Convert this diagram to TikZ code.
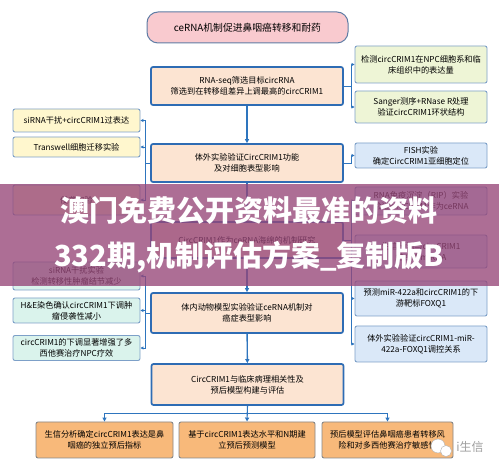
\documentclass[tikz,border=0pt]{standalone}
\usepackage{fontspec}
\newfontfamily\cjk{Noto Sans CJK SC}
\usetikzlibrary{arrows.meta}

\begin{document}
\begin{tikzpicture}[
		x=1pt,
		y=-1pt,
		font=\cjk\fontsize{8.2}{11}\selectfont,
		hop/.style={draw=MauVienNhat,line width=0.9pt,rounded corners=2pt,align=center,inner sep=1pt},
		hoptieude/.style={hop,draw=MauVienTieuDe,line width=1pt,rounded corners=11pt,fill=MauTieuDe,minimum width=201pt,minimum height=31pt,font=\cjk\fontsize{9.8}{12}\selectfont},
		hopchinh/.style={hop,draw=MauVienDam,line width=1.7pt,fill=MauTrungTam,minimum width=192pt},
		hoptrai/.style={hop,minimum width=127pt},
		hopphai/.style={hop,minimum width=132pt},
		hopduoi/.style={hop,draw=MauVienXam,fill=MauCam,minimum height=36pt},
		chinh/.style={draw=MauMuiTen,line width=1.4pt,-{Triangle[length=4pt,width=4pt]}},
		nhanh/.style={draw=MauMuiTen,line width=0.9pt,-{Triangle[length=3pt,width=3pt]}}
	]
	% ===== MÀU SẮC =====
	\definecolor{MauTieuDe}{RGB}{249,202,207}
	\definecolor{MauVienTieuDe}{RGB}{95,125,165}
	\definecolor{MauTrungTam}{RGB}{252,228,210}
	\definecolor{MauVienDam}{RGB}{46,108,180}
	\definecolor{MauVienNhat}{RGB}{125,160,200}
	\definecolor{MauVienXam}{RGB}{135,135,135}
	\definecolor{MauXanhLa}{RGB}{238,245,214}
	\definecolor{MauVang}{RGB}{255,247,206}
	\definecolor{MauXanhDuong}{RGB}{218,232,248}
	\definecolor{MauXanhNgoc}{RGB}{218,243,236}
	\definecolor{MauCam}{RGB}{248,185,122}
	\definecolor{MauMuiTen}{RGB}{46,117,190}
	\definecolor{MauBang}{RGB}{150,70,120}

	\useasboundingbox (0,0) rectangle (499,470);
	\fill[white] (0,0) rectangle (499,470);

	% ===== CỘT GIỮA =====
	\node[hoptieude] (tieude) at (247.5,27.5) {ceRNA机制促进鼻咽癌转移和耐药};
	\node[hopchinh,minimum height=38pt] (buoc1) at (247,86)
		{RNA-seq筛选目标circRNA\\筛选到在转移组差异上调最高的circCRIM1};
	\node[hopchinh,minimum height=38pt] (buoc2) at (247,163)
		{体外实验验证CircCRIM1功能\\及对细胞表型影响};
	\node[hopchinh,minimum height=36pt] (buoc3) at (247,240)
		{CircCRIM1作为ceRNA海绵的机制研究};
	\node[hopchinh,minimum height=40pt] (buoc4) at (247,313)
		{体内动物模型实验验证ceRNA机制对\\癌症表型影响};
	\node[hopchinh,minimum height=41pt] (buoc5) at (247.5,384.5)
		{CircCRIM1与临床病理相关性及\\预后模型构建与评估};

	% ===== CỘT TRÁI =====
	\node[hoptrai,fill=MauVang,minimum height=23pt] (trai1) at (76.5,120.5) {siRNA干扰+circCRIM1过表达};
	\node[hoptrai,fill=MauVang,minimum height=20pt] (trai2) at (76.5,147) {Transwell细胞迁移实验};
	\node[hoptrai,fill=MauVang,minimum height=30pt] (trai3) at (76.5,200) {侵袭实验};
	\node[hoptrai,fill=MauXanhNgoc,minimum height=28pt] (trai4) at (76.5,276)
		{siRNA干扰实验\\检测转移性肿瘤结节减少};
	\node[hoptrai,fill=MauXanhNgoc,minimum height=25pt] (trai5) at (76.5,310.5)
		{H\&E染色确认circCRIM1下调肿\\瘤侵袭性减小};
	\node[hoptrai,fill=MauXanhNgoc,minimum height=25pt] (trai6) at (76.5,348)
		{circCRIM1的下调显著增强了多\\西他赛治疗NPC疗效};

	% ===== CỘT PHẢI =====
	\node[hopphai,fill=MauXanhLa,minimum height=37pt] (phai1) at (421,64.5)
		{检测circCRIM1在NPC细胞系和临\\床组织中的表达量};
	\node[hopphai,fill=MauXanhLa,minimum height=32pt] (phai2) at (421,107)
		{Sanger测序+RNase R处理\\验证circCRIM1环状结构};
	\node[hopphai,fill=MauXanhDuong,minimum height=25pt] (phai3) at (421,155.5)
		{FISH实验\\确定CircCRIM1亚细胞定位};
	\node[hopphai,fill=MauXanhDuong,minimum height=28pt] (phai4) at (421,201)
		{RNA免疫沉淀（RIP）实验\\验证circCRIM1作为ceRNA};
	\node[hopphai,fill=MauXanhDuong,minimum height=33pt] (phai5) at (421,251.5)
		{生信预测与circCRIM1\\结合的miRNA};
	\node[hopphai,fill=MauXanhDuong,minimum height=35pt] (phai6) at (421,298.5)
		{预测miR-422a和circCRIM1的下\\游靶标FOXQ1};
	\node[hopphai,fill=MauXanhDuong,minimum height=36pt] (phai7) at (421,344)
		{体外实验验证circCRIM1-miR-\\422a-FOXQ1调控关系};

	% ===== HÀNG DƯỚI =====
	\node[hopduoi,minimum width=137pt] (duoi1) at (104.5,440)
		{生信分析确定circCRIM1表达是鼻\\咽癌的独立预后指标};
	\node[hopduoi,minimum width=136pt] (duoi2) at (247,440)
		{基于circCRIM1表达水平和N期建\\立预后预测模型};
	\node[hopduoi,minimum width=131pt] (duoi3) at (387.5,440)
		{预后模型评估鼻咽癌患者转移风\\险和对多西他赛治疗敏感性};

	% ===== MŨI TÊN CHÍNH =====
	\draw[chinh] (buoc1) -- (buoc2);
	\draw[chinh] (buoc2) -- (buoc3);
	\draw[chinh] (buoc3) -- (buoc4);
	\draw[chinh] (buoc4) -- (buoc5);
	\draw[chinh,line width=1.1pt] (buoc5.south) -- ++(0,8) -| (duoi1.north);
	\draw[chinh,line width=1.1pt] (buoc5.south) -- (duoi2.north);
	\draw[chinh,line width=1.1pt] (buoc5.south) -- ++(0,8) -| (duoi3.north);

	% ===== NHÁNH HAI BÊN =====
	\draw[nhanh] (buoc1.east) -- ++(8,0) |- (phai1.west);
	\draw[nhanh] (buoc1.east) -- ++(8,0) |- (phai2.west);
	\draw[nhanh] (buoc2.east) -- ++(8,0) |- (phai3.west);
	\draw[nhanh] (buoc2.west) -- ++(-5,0) |- (trai1.east);
	\draw[nhanh] (buoc2.west) -- ++(-5,0) |- (trai2.east);
	\draw[nhanh] (buoc2.west) -- ++(-5,0) |- (trai3.east);
	\draw[nhanh] (buoc3.east) -- ++(8,0) |- (phai4.west);
	\draw[nhanh] (buoc3.east) -- ++(8,0) |- (phai5.west);
	\draw[nhanh] (buoc3.east) -- ++(8,0) |- (phai6.west);
	\draw[nhanh] (buoc3.east) -- ++(8,0) |- (phai7.west);
	\draw[nhanh] (buoc4.west) -- ++(-5,0) |- (trai4.east);
	\draw[nhanh] (buoc4.west) -- ++(-5,0) |- (trai5.east);
	\draw[nhanh] (buoc4.west) -- ++(-5,0) |- (trai6.east);

	% ===== DẢI CHỮ PHỦ =====
	\fill[MauBang,opacity=0.78] (0,184) rectangle (499,286);
	\node[text=white,font=\cjk\bfseries\fontsize{29}{29}\selectfont] (dong1) at (249,210) {澳门免费公开资料最准的资料};
	\node[text=white,font=\cjk\bfseries\fontsize{29}{29}\selectfont] (dong2) at (249,257) {332期,机制评估方案\_复制版B};

	% ===== LOGO =====
	\draw[gray!60,fill=white] (438,446) circle (7);
	\draw[gray!60,fill=white] (446,451) circle (5.5);
	\node[text=gray!75,font=\cjk\fontsize{12}{12}\selectfont] (logo) at (470,447) {i生信};

\end{tikzpicture}
\end{document}
